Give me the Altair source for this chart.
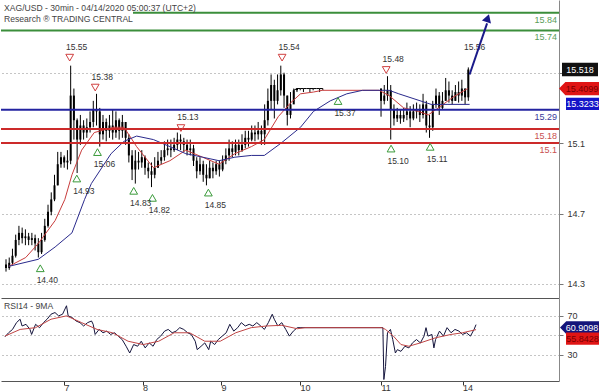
import json
import altair as alt
import pandas as pd

FONT = "Liberation Sans"

title_line1 = "XAG/USD - 30min - 04/14/2020 05:00:37 (UTC+2)"
title_line2 = "Research \u00ae TRADING CENTRAL"
rsi_title = "RSI14 - 9MA"

# ---------------- candles (one sample per hour) ----------------
first_open = 14.41
close_a = [14.39, 14.42, 14.46, 14.55, 14.59, 14.56, 14.57, 14.55, 14.56, 14.53,
           14.48, 14.55, 14.63, 14.71, 14.78, 14.86, 14.98, 15.02, 14.99, 15.00,
           15.37, 15.23, 15.12, 15.20, 15.16, 15.19, 15.22, 15.29, 15.28, 15.15,
           15.22, 15.17, 15.20, 15.16, 15.23, 15.17, 15.22, 15.13, 15.03, 14.95,
           15.00, 14.99, 15.02, 14.96, 14.94, 14.92, 14.96, 15.00, 15.02, 15.06,
           15.07, 15.06, 15.09, 15.12, 15.11, 15.09, 15.06, 15.07, 15.00, 14.94,
           14.98, 14.92, 14.90, 14.96, 14.94, 14.98, 14.95, 15.00, 15.03, 15.07,
           15.05, 15.09, 15.06, 15.09, 15.13, 15.12, 15.16, 15.15, 15.17, 15.15,
           15.23, 15.34, 15.43, 15.34, 15.40, 15.49, 15.37, 15.26, 15.32, 15.40]
high_a = [14.44, 14.45, 14.50, 14.58, 14.63, 14.62, 14.61, 14.59, 14.59, 14.58,
          14.56, 14.59, 14.67, 14.75, 14.82, 14.92, 15.05, 15.05, 15.03, 15.06,
          15.54, 15.41, 15.24, 15.26, 15.23, 15.24, 15.28, 15.34, 15.38, 15.30,
          15.26, 15.24, 15.26, 15.29, 15.28, 15.24, 15.26, 15.22, 15.15, 15.06,
          15.06, 15.05, 15.06, 15.03, 14.99, 14.99, 15.02, 15.05, 15.06, 15.11,
          15.12, 15.12, 15.13, 15.16, 15.15, 15.13, 15.12, 15.12, 15.09, 15.02,
          15.02, 15.00, 14.98, 15.00, 14.99, 15.00, 15.00, 15.03, 15.07, 15.12,
          15.11, 15.12, 15.12, 15.15, 15.17, 15.17, 15.20, 15.20, 15.22, 15.20,
          15.32, 15.41, 15.49, 15.46, 15.49, 15.54, 15.50, 15.37, 15.39, 15.41]
low_a = [14.37, 14.38, 14.41, 14.45, 14.52, 14.53, 14.52, 14.52, 14.52, 14.49,
         14.45, 14.47, 14.54, 14.62, 14.69, 14.77, 14.86, 14.96, 14.96, 14.95,
         14.98, 15.12, 14.93, 15.09, 15.12, 15.13, 15.16, 15.19, 15.20, 15.08,
         15.12, 15.11, 15.13, 15.12, 15.13, 15.12, 15.13, 15.09, 14.99, 14.89,
         14.87, 14.95, 14.96, 14.92, 14.90, 14.85, 14.90, 14.96, 14.98, 15.00,
         15.03, 15.02, 15.05, 15.06, 15.06, 15.05, 15.03, 15.03, 14.97, 14.90,
         14.92, 14.88, 14.86, 14.90, 14.90, 14.92, 14.91, 14.94, 14.98, 15.00,
         15.02, 15.03, 15.03, 15.05, 15.07, 15.08, 15.11, 15.11, 15.12, 15.09,
         15.09, 15.20, 15.29, 15.24, 15.32, 15.37, 15.30, 15.20, 15.24, 15.34]

# holiday (flat) block
close_flat = [15.41, 15.41, 15.41, 15.41, 15.41, 15.41, 15.41, 15.41, 15.41]
high_flat = [15.41, 15.41, 15.41, 15.41, 15.41, 15.41, 15.41, 15.41, 15.41]
low_flat = [15.39, 15.40, 15.39, 15.41, 15.39, 15.40, 15.41, 15.39, 15.40]

# after the holiday gap
close_b = [15.34, 15.37, 15.40, 15.29, 15.24, 15.26, 15.24, 15.26, 15.28, 15.24,
           15.28, 15.29, 15.26, 15.32, 15.20, 15.19, 15.32, 15.37, 15.30, 15.34,
           15.40, 15.37, 15.34, 15.39, 15.37, 15.41, 15.36, 15.518]
high_b = [15.41, 15.43, 15.48, 15.43, 15.32, 15.30, 15.29, 15.30, 15.33, 15.31,
          15.32, 15.33, 15.32, 15.38, 15.34, 15.26, 15.34, 15.41, 15.39, 15.39,
          15.47, 15.45, 15.40, 15.43, 15.45, 15.46, 15.41, 15.53]
low_b = [15.25, 15.32, 15.34, 15.12, 15.20, 15.22, 15.21, 15.22, 15.23, 15.19,
         15.23, 15.24, 15.22, 15.24, 15.16, 15.13, 15.17, 15.30, 15.26, 15.29,
         15.34, 15.33, 15.32, 15.34, 15.33, 15.34, 15.32, 15.34]

hours_a = list(range(0, 90))
hours_flat = list(range(90, 99))
hours_b = list(range(116, 144))

# moving averages on price
red_h = [0.9, 6.1, 10.0, 15.2, 18.2, 20.4, 23.4, 27.3, 33.4, 36.5, 40.4, 45.6, 50.7, 55.6, 60.8, 65.9,
         70.8, 75.9, 79.9, 84.2, 88.1, 91.1, 95.1, 97.8, 115.4, 118.5, 123.0, 127.6, 130.6, 133.7, 138.2, 142.8]
red_v = [14.40, 14.45, 14.53, 14.66, 14.78, 14.92, 15.06, 15.16, 15.19, 15.19, 15.08, 14.96, 15.00, 15.06, 15.02, 14.98,
         15.04, 15.08, 15.12, 15.25, 15.33, 15.38, 15.39, 15.40, 15.40, 15.37, 15.30, 15.28, 15.26, 15.30, 15.36, 15.41]
blue_h = [0.9, 10.0, 15.2, 20.4, 24.3, 26.4, 32.5, 36.5, 40.4, 45.6, 50.7, 55.6, 60.8, 65.9, 70.8, 75.9, 79.9,
          85.1, 91.1, 95.1, 100.3, 105.4, 110.3, 115.4, 118.5, 121.5, 131.5, 136.7, 143.4]
blue_v = [14.40, 14.44, 14.51, 14.59, 14.78, 14.87, 15.04, 15.11, 15.14, 15.12, 15.08, 15.04, 15.02, 15.00, 15.02, 15.03, 15.03,
          15.10, 15.19, 15.28, 15.34, 15.38, 15.40, 15.40, 15.40, 15.38, 15.32, 15.32, 15.32]

# support / resistance levels
level_vals = [15.84, 15.74, 15.29, 15.18, 15.10]
level_text = ["15.84", "15.74", "15.29", "15.18", "15.1"]
level_line_col = ["#3b8e3b", "#3b8e3b", "#2323a0", "#cc2a2a", "#cc2a2a"]
level_text_col = ["#5a9e5a", "#5a9e5a", "#3a3a9a", "#c95050", "#c95050"]

# swing annotations
hi_h = [19.7, 27.6, 54.1, 85.4, 117.6]
hi_p = [15.54, 15.37, 15.14, 15.54, 15.47]
hi_t = ["15.55", "15.38", "15.13", "15.54", "15.48"]
lo_h = [10.6, 21.9, 28.3, 39.5, 45.3, 62.6, 102.7, 119.1, 131.2]
lo_p = [14.44, 14.95, 15.10, 14.88, 14.84, 14.87, 15.39, 15.12, 15.13]
lo_t = ["14.40", "14.93", "15.06", "14.83", "14.82", "14.85", "15.37", "15.10", "15.11"]
target_h = [142.8]
target_p = [15.54]
target_t = ["15.56"]

# projection arrow
arrow_h = [143.4, 148.8]
arrow_p = [15.49, 15.78]
arrowhead_h = [149.0]
arrowhead_p = [15.81]

# RSI panel
rsi_h = [1.2, 2.3, 3.5, 4.7, 5.8, 6.4, 7.6, 8.8, 9.3, 10.5, 11.7, 12.9, 14.0, 15.2, 16.4, 17.5, 18.7, 19.9, 20.4, 21.6,
         22.8, 24.0, 25.1, 26.3, 27.5, 28.0, 28.6, 29.8, 31.0, 32.1, 33.3, 34.5, 35.6, 36.8, 38.0, 39.1, 40.3, 41.5, 42.6, 43.8,
         45.0, 46.2, 47.3, 48.5, 49.7, 50.8, 52.0, 53.2, 54.3, 55.5, 56.7, 57.8, 59.0, 59.6, 60.8, 61.9, 63.1, 63.7, 64.9, 66.0,
         67.2, 68.4, 69.5, 70.7, 71.9, 73.0, 74.2, 75.4, 76.5, 77.7, 78.9, 80.0, 81.2, 82.4, 83.0, 84.1, 85.3, 86.5, 87.6, 88.8,
         90.0, 91.1, 116.0, 116.3, 116.8, 117.4, 118.3, 119.0, 119.8, 120.4, 121.5, 122.7, 123.9, 125.0, 126.2, 127.4, 128.5,
         129.1, 129.7, 130.9, 131.5, 132.0, 133.2, 134.4, 135.5, 136.7, 137.9, 139.1, 140.2, 141.4, 142.6, 143.7, 144.3]
rsi_v = [48.5, 52.6, 56.0, 62.9, 66.4, 59.5, 61.2, 56.0, 50.9, 61.2, 57.8, 62.9, 66.4, 71.5, 73.2, 69.8, 71.5, 80.1, 69.8, 68.1,
         64.6, 62.9, 59.5, 62.9, 64.6, 61.2, 50.9, 56.0, 52.6, 54.3, 50.9, 52.6, 49.2, 45.7, 38.9, 32.0, 40.6, 38.9, 44.0, 37.2,
         42.3, 38.9, 45.7, 49.2, 54.3, 56.0, 52.6, 54.3, 57.8, 56.0, 52.6, 50.9, 44.0, 35.4, 38.9, 42.3, 35.4, 44.0, 40.6, 45.7,
         49.2, 52.6, 61.2, 54.3, 57.8, 62.9, 59.5, 61.2, 59.5, 62.9, 59.5, 56.0, 62.9, 71.5, 66.4, 59.5, 62.9, 56.0, 49.2, 54.3,
         57.8, 57.8, 57.8, 5.0, 18.2, 52.6, 56.0, 45.7, 32.0, 35.4, 33.7, 38.9, 37.2, 42.3, 45.7, 42.3, 49.2,
         57.8, 49.2, 50.9, 37.2, 45.7, 54.3, 49.2, 57.8, 52.6, 56.0, 54.3, 50.9, 52.6, 49.2, 56.0, 60.9]
rsima_h = [1.2, 5.8, 10.5, 15.2, 19.9, 24.5, 29.2, 33.9, 38.6, 43.2, 47.9, 52.6, 57.3, 61.9, 66.6, 71.3, 76.0, 80.6,
           85.3, 90.0, 92.3, 115.7, 116.8, 119.2, 121.5, 123.9, 127.4, 132.0, 136.7, 140.2, 144.3]
rsima_v = [49.2, 56.0, 57.8, 66.4, 69.8, 62.9, 56.0, 52.6, 44.0, 40.6, 44.0, 52.6, 52.6, 44.0, 44.0, 52.6, 57.8, 59.5,
           60.2, 56.7, 57.8, 57.8, 56.0, 49.2, 40.6, 38.9, 42.3, 47.5, 50.9, 52.6, 55.8]

# axis ticks
day_pos = [19.1, 43.0, 66.8, 90.8, 115.4, 140.2]
day_lab = ["7", "8", "9", "10", "11", "14"]
price_ticks = [14.3, 14.7, 15.1, 15.5]
rsi_ticks = [30, 50, 70]

# last-value badges
badge_price_vals = [15.518, 15.4099, 15.3233]
badge_rsi_vals = [60.9098, 55.8428]

# ---------------- data frames ----------------
hours = hours_a + hours_flat + hours_b
closes = close_a + close_flat + close_b
highs = high_a + high_flat + high_b
lows = low_a + low_flat + low_b
opens = [first_open] + closes[:-1]
candles = pd.DataFrame({"h": hours, "open": opens, "close": closes, "high": highs, "low": lows})
flat_df = pd.DataFrame({"h": [hours_a[-1]] + hours_flat, "p": [close_a[-1]] + close_flat})
red_df = pd.DataFrame({"h": red_h, "p": red_v})
blue_df = pd.DataFrame({"h": blue_h, "p": blue_v})
lev_df = pd.DataFrame({"p": level_vals, "t": level_text, "lc": level_line_col, "tc": level_text_col})
hi_df = pd.DataFrame({"h": hi_h, "p": hi_p, "t": hi_t})
lo_df = pd.DataFrame({"h": lo_h, "p": lo_p, "t": lo_t})
tg_df = pd.DataFrame({"h": target_h, "p": target_p, "t": target_t})
arrow_df = pd.DataFrame({"h": arrow_h, "p": arrow_p})
head_df = pd.DataFrame({"h": arrowhead_h, "p": arrowhead_p})
rsi_df = pd.DataFrame({"h": rsi_h, "v": rsi_v})
rsima_df = pd.DataFrame({"h": rsima_h, "v": rsima_v})
one = pd.DataFrame({"a": [0]})

W = 558
xs = alt.Scale(domain=[0, 169.5], nice=False, zero=False)
ys = alt.Scale(domain=[14.22, 15.913], nice=False, zero=False)
rs = alt.Scale(domain=[3.5, 88], nice=False, zero=False)

# the 15.5 label sits under the last-price badge in the original, so it is left blank
main_axis_y = alt.Axis(orient="right", values=price_ticks, format=".1f",
                       labelExpr="datum.value == 15.5 ? '' : datum.label", grid=True, gridDash=[1, 3],
                       gridColor="#8a8a8a", tickSize=4, tickColor="#777", domainColor="#888",
                       labelFontSize=9, labelColor="#333", labelPadding=4, title=None, labelFont=FONT)
main_axis_x = alt.Axis(labels=False, ticks=False, grid=False, domainColor="#555", title=None,
                       minExtent=0, maxExtent=0)

XN = alt.X("h:Q", scale=xs, axis=main_axis_x)
YN = alt.Y("p:Q", scale=ys, axis=main_axis_y)

wick = alt.Chart(candles).mark_rule(color="black", strokeWidth=1, clip=True).encode(
    x=XN, y=alt.Y("low:Q", scale=ys, axis=main_axis_y), y2="high:Q")
body = alt.Chart(candles).mark_bar(color="black", size=2, clip=True).encode(
    x=XN, y=alt.Y("open:Q", scale=ys, axis=main_axis_y), y2="close:Q")
flat = alt.Chart(flat_df).mark_line(color="black", strokeWidth=1).encode(x=XN, y=YN)
red_ma = alt.Chart(red_df).mark_line(color="#c83c3c", strokeWidth=1).encode(x=XN, y=YN)
blue_ma = alt.Chart(blue_df).mark_line(color="#2a2a8c", strokeWidth=1).encode(x=XN, y=YN)
levels = alt.Chart(lev_df).mark_rule(strokeWidth=2).encode(
    y=YN, color=alt.Color("lc:N", scale=None))
level_lbl = alt.Chart(lev_df).mark_text(align="right", baseline="middle", dy=7, fontSize=9, font=FONT).encode(
    x=alt.value(556), y=YN, text="t:N", color=alt.Color("tc:N", scale=None))

hi_tri = alt.Chart(hi_df).mark_point(shape="triangle-down", filled=False, color="#d04040", size=60,
                                     strokeWidth=1, yOffset=-8, opacity=1).encode(x=XN, y=YN)
hi_lbl = alt.Chart(hi_df).mark_text(dx=7, dy=-19, fontSize=8.5, color="#333", font=FONT).encode(x=XN, y=YN, text="t:N")
lo_tri = alt.Chart(lo_df).mark_point(shape="triangle-up", filled=False, color="#3a9a3a", size=60,
                                     strokeWidth=1, yOffset=9, opacity=1).encode(x=XN, y=YN)
lo_lbl = alt.Chart(lo_df).mark_text(dx=7, dy=21, fontSize=8.5, color="#333", font=FONT).encode(x=XN, y=YN, text="t:N")
tg_lbl = alt.Chart(tg_df).mark_text(dx=7, dy=-19, fontSize=8.5, color="#333", font=FONT).encode(x=XN, y=YN, text="t:N")

arrow = alt.Chart(arrow_df).mark_line(color="#1a1a8a", strokeWidth=2).encode(x=XN, y=YN)
head = alt.Chart(head_df).mark_point(shape="triangle-up", filled=True, size=90, angle=18,
                                     color="#1a1a8a", opacity=1).encode(x=XN, y=YN)

RECT = "M-1,-0.37L1,-0.37L1,0.37L-1,0.37Z"
ARROWB = "M-1,0L-0.68,-0.33L1,-0.33L1,0.33L-0.68,0.33Z"


def badge(val, field, scale, axis, path, size, cx, fill, tcolor, label, tx, yoff=0):
    d = pd.DataFrame({field: [val], "t": [label]})
    y = alt.Y(f"{field}:Q", scale=scale, axis=axis)
    bg = alt.Chart(d).mark_point(shape=path, filled=True, size=size, color=fill, opacity=1,
                                 yOffset=yoff).encode(x=alt.value(cx), y=y)
    tx_ = alt.Chart(d).mark_text(fontSize=9, color=tcolor, font=FONT, yOffset=yoff, baseline="middle").encode(
        x=alt.value(tx), y=y, text="t:N")
    return bg + tx_


b1 = badge(badge_price_vals[0], "p", ys, main_axis_y, RECT, 1296, 579, "#111111", "white", "15.518", 579)
b2 = badge(badge_price_vals[1], "p", ys, main_axis_y, ARROWB, 1600, 578, "#e01515", "#7a0000", "15.4099", 581)
b3 = badge(badge_price_vals[2], "p", ys, main_axis_y, RECT, 1089, 581.5, "#1414c8", "white", "15.3233", 581.5)

title_bg = alt.Chart(one).mark_rect(color="white").encode(
    x=alt.value(0), x2=alt.value(132), y=alt.value(0), y2=alt.value(25))
t1 = alt.Chart(one).mark_text(align="left", baseline="middle", fontSize=8.6, color="#444", font=FONT,
                               text=title_line1).encode(x=alt.value(3), y=alt.value(8))
t2 = alt.Chart(one).mark_text(align="left", baseline="middle", fontSize=8.6, color="#444", font=FONT,
                               text=title_line2).encode(x=alt.value(3), y=alt.value(19))

main = alt.layer(wick, body, flat, red_ma, blue_ma, levels, level_lbl, hi_tri, hi_lbl, lo_tri, lo_lbl,
                 tg_lbl, arrow, head, b1, b2, b3, title_bg, t1, t2).properties(width=W, height=298)

# ---------------- RSI panel ----------------
lab_expr = f"{json.dumps(day_lab)}[indexof({json.dumps(day_pos)}, datum.value)]"
rsi_axis_x = alt.Axis(values=day_pos, labelExpr=lab_expr, tickSize=4, tickColor="#333", domainColor="#555",
                      labelAlign="left", labelBaseline="top", labelPadding=-2, labelFontSize=9,
                      labelColor="#333", grid=False, title=None, labelFlush=False, labelOverlap=False,
                      labelFont=FONT)
rsi_axis_y = alt.Axis(orient="right", values=rsi_ticks, labelExpr="datum.value == 50 ? '' : datum.label",
                      grid=True, gridDash=[1, 3], gridColor="#8a8a8a", tickSize=4, tickColor="#777",
                      domainColor="#888", labelFontSize=9, labelColor="#333", labelPadding=4, title=None,
                      labelFont=FONT)
RX = alt.X("h:Q", scale=xs, axis=rsi_axis_x)
RY = alt.Y("v:Q", scale=rs, axis=rsi_axis_y)

rsi_line = alt.Chart(rsi_df).mark_line(color="#14143c", strokeWidth=1).encode(x=RX, y=RY)
rsi_ma = alt.Chart(rsima_df).mark_line(color="#c04545", strokeWidth=1).encode(x=RX, y=RY)
rb1 = badge(badge_rsi_vals[0], "v", rs, rsi_axis_y, ARROWB, 1521, 578.5, "#14147a", "white", "60.9098", 581, yoff=3)
rb2 = badge(badge_rsi_vals[1], "v", rs, rsi_axis_y, RECT, 1089, 581.5, "#e01515", "#7a0000", "55.8428", 581.5, yoff=9)
rt = alt.Chart(one).mark_text(align="left", baseline="middle", fontSize=8.6, color="#444", font=FONT,
                               text=rsi_title).encode(x=alt.value(3), y=alt.value(8))

rsi = alt.layer(rsi_line, rsi_ma, rb1, rb2, rt).properties(width=W, height=83)

chart = alt.vconcat(main, rsi, spacing=0, bounds="flush").properties(padding=0).configure_view(
    stroke=None).configure_axis(labelFont=FONT)

chart.save("out.html", embed_options={"renderer": "svg", "actions": False})
